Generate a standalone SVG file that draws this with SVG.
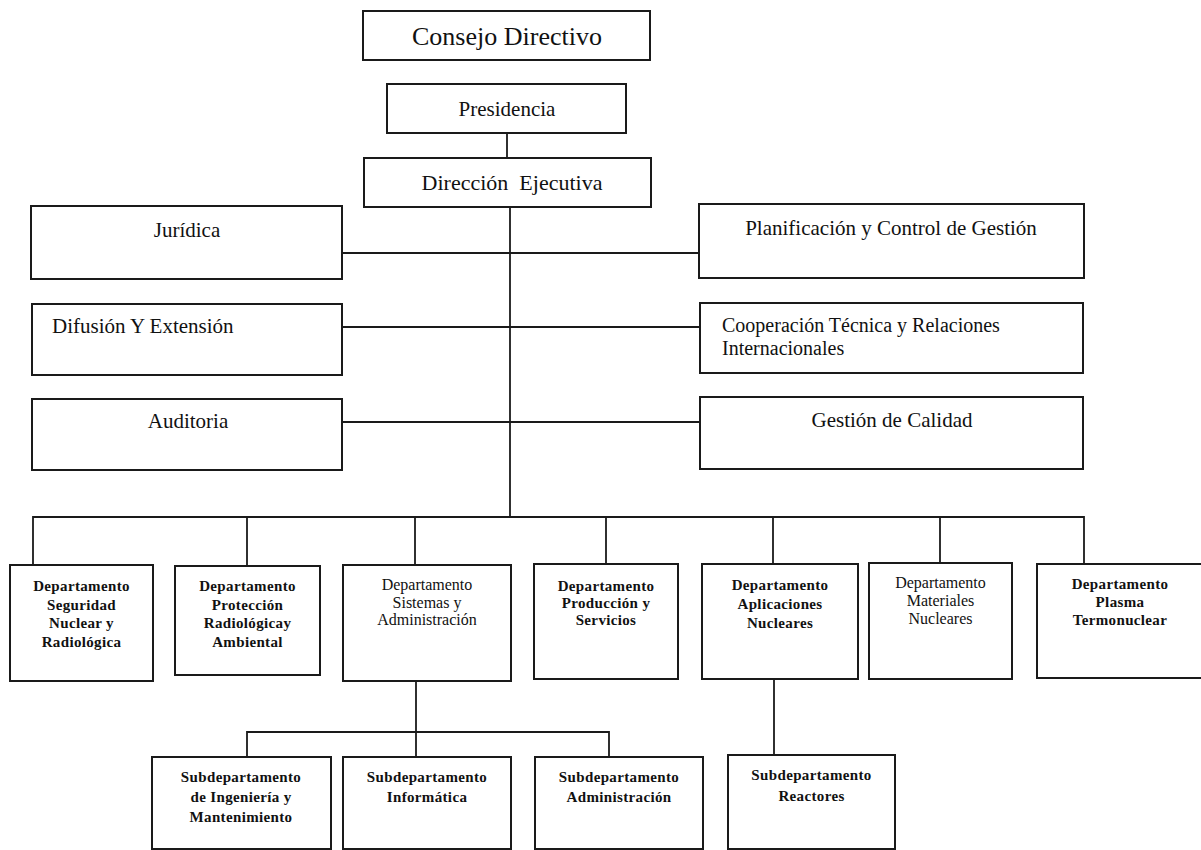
<svg xmlns="http://www.w3.org/2000/svg" width="1201" height="850" viewBox="0 0 1201 850">
<style>
.box{fill:#fff;stroke:#1a1a1a;stroke-width:2}
.ln{stroke:#1a1a1a;stroke-width:1.8;fill:none}
.t{font-family:"Liberation Serif","Times New Roman",serif;fill:#111}
.top{font-size:21px}
.big{font-size:26px}
.d{font-size:16px;text-anchor:middle}
.db{font-size:15px;font-weight:bold;letter-spacing:0.35px;text-anchor:middle}
.m{text-anchor:middle}
</style>
<rect width="1201" height="850" fill="#fff"/>
<g id="connectors">
<line class="ln" x1="507" y1="133" x2="507" y2="158"/>
<line class="ln" x1="510" y1="207" x2="510" y2="517"/>
<line class="ln" x1="342" y1="253" x2="699" y2="253"/>
<line class="ln" x1="342" y1="327" x2="700" y2="327"/>
<line class="ln" x1="342" y1="422" x2="700" y2="422"/>
<polyline class="ln" points="33,565 33,517 1084,517 1084,564"/>
<line class="ln" x1="247" y1="517" x2="247" y2="566"/>
<line class="ln" x1="415" y1="517" x2="415" y2="565"/>
<line class="ln" x1="606" y1="517" x2="606" y2="564"/>
<line class="ln" x1="773" y1="517" x2="773" y2="564"/>
<line class="ln" x1="940" y1="517" x2="940" y2="563"/>
<line class="ln" x1="416" y1="681" x2="416" y2="757"/>
<polyline class="ln" points="247,757 247,732 609,732 609,757"/>
<line class="ln" x1="774" y1="679" x2="774" y2="755"/>
</g>
<g id="consejo"><rect class="box" x="363" y="11" width="287" height="49"/><text class="t big m" x="507" y="45">Consejo Directivo</text></g>
<g id="presidencia"><rect class="box" x="387" y="84" width="239" height="49"/><text class="t top m" x="507" y="116">Presidencia</text></g>
<g id="direccion"><rect class="box" x="364" y="158" width="287" height="49"/><text class="t m" style="font-size:22px;white-space:pre" x="512" y="190">Dirección  Ejecutiva</text></g>
<g id="juridica"><rect class="box" x="31" y="206" width="311" height="73"/><text class="t top m" x="187" y="237">Jurídica</text></g>
<g id="planificacion"><rect class="box" x="699" y="204" width="385" height="74"/><text class="t top m" x="891" y="235">Planificación y Control de Gestión</text></g>
<g id="difusion"><rect class="box" x="32" y="304" width="310" height="71"/><text class="t top" x="52" y="333">Difusión Y Extensión</text></g>
<g id="cooperacion"><rect class="box" x="700" y="303" width="383" height="70"/><text class="t" style="font-size:20px" x="722" y="332">Cooperación Técnica y Relaciones</text><text class="t" style="font-size:20px" x="722" y="355">Internacionales</text></g>
<g id="auditoria"><rect class="box" x="32" y="399" width="310" height="71"/><text class="t top m" x="188" y="428">Auditoria</text></g>
<g id="calidad"><rect class="box" x="700" y="397" width="383" height="72"/><text class="t top m" x="892" y="427">Gestión de Calidad</text></g>
<g id="dep-seguridad"><rect class="box" x="10" y="565" width="143" height="116"/>
<text class="t db" x="81.5" y="591">Departamento</text><text class="t db" x="81.5" y="609.5">Seguridad</text><text class="t db" x="81.5" y="628">Nuclear y</text><text class="t db" x="81.5" y="646.5">Radiológica</text></g>
<g id="dep-proteccion"><rect class="box" x="175" y="566" width="145" height="109"/>
<text class="t db" x="247.5" y="591">Departamento</text><text class="t db" x="247.5" y="609.5">Protección</text><text class="t db" x="247.5" y="628">Radiológicay</text><text class="t db" x="247.5" y="646.5">Ambiental</text></g>
<g id="dep-sistemas"><rect class="box" x="343" y="565" width="168" height="116"/>
<text class="t d" x="427" y="590">Departamento</text><text class="t d" x="427" y="607.5">Sistemas y</text><text class="t d" x="427" y="625">Administración</text></g>
<g id="dep-produccion"><rect class="box" x="534" y="564" width="144" height="115"/>
<text class="t db" x="606" y="591">Departamento</text><text class="t db" x="606" y="608">Producción y</text><text class="t db" x="606" y="625">Servicios</text></g>
<g id="dep-aplicaciones"><rect class="box" x="702" y="564" width="156" height="115"/>
<text class="t db" x="780" y="590">Departamento</text><text class="t db" x="780" y="609">Aplicaciones</text><text class="t db" x="780" y="628">Nucleares</text></g>
<g id="dep-materiales"><rect class="box" x="869" y="563" width="143" height="116"/>
<text class="t d" x="940.5" y="588">Departamento</text><text class="t d" x="940.5" y="606">Materiales</text><text class="t d" x="940.5" y="624">Nucleares</text></g>
<g id="dep-plasma"><rect class="box" x="1037" y="564" width="200" height="114"/>
<text class="t db" x="1120" y="589">Departamento</text><text class="t db" x="1120" y="607">Plasma</text><text class="t db" x="1120" y="625">Termonuclear</text></g>
<g id="sub-ingenieria"><rect class="box" x="152" y="757" width="179" height="92"/>
<text class="t db" x="241" y="782">Subdepartamento</text><text class="t db" x="241" y="802">de Ingeniería y</text><text class="t db" x="241" y="822">Mantenimiento</text></g>
<g id="sub-informatica"><rect class="box" x="343" y="757" width="168" height="92"/>
<text class="t db" x="427" y="782">Subdepartamento</text><text class="t db" x="427" y="802">Informática</text></g>
<g id="sub-administracion"><rect class="box" x="535" y="757" width="168" height="92"/>
<text class="t db" x="619" y="782">Subdepartamento</text><text class="t db" x="619" y="802">Administración</text></g>
<g id="sub-reactores"><rect class="box" x="728" y="755" width="167" height="94"/>
<text class="t db" x="811.5" y="780">Subdepartamento</text><text class="t db" x="811.5" y="801">Reactores</text></g>
</svg>
